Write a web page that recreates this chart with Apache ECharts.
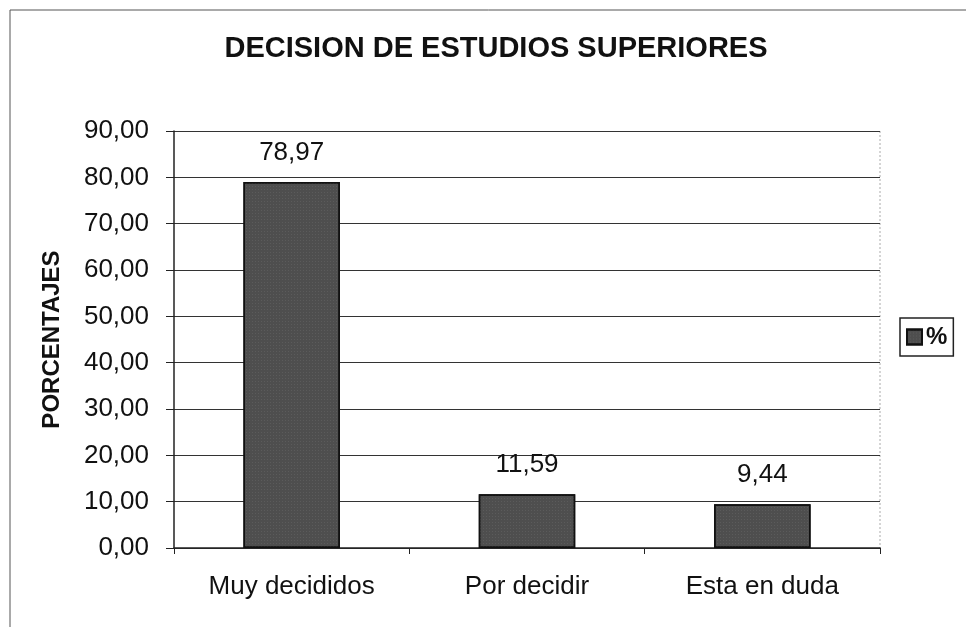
<!DOCTYPE html>
<html>
<head>
<meta charset="utf-8">
<script src="https://cdn.jsdelivr.net/npm/echarts@6/dist/echarts.min.js"></script>
<style>
html,body{margin:0;padding:0;background:#fff;}
#main{width:966px;height:627px;}
</style>
</head>
<body>
<div id="main"></div>
<script>
var categorias = ['Muy decididos', 'Por decidir', 'Esta en duda'];
var porcentajes = [78.97, 11.59, 9.44];

function coma(v) {
    return Number(v).toFixed(2).replace('.', ',');
}

var chart = echarts.init(document.getElementById('main'));
var option = {
    backgroundColor: '#fff',
    title: {
        text: 'DECISION DE ESTUDIOS SUPERIORES',
        left: 491,
        textAlign: 'center',
        top: 29,
        textStyle: {fontFamily: 'Arial', fontSize: 29, fontWeight: 'bold', color: '#111'}
    },
    legend: {
        data: ['%'],
        left: 900,
        top: 318,
        orient: 'vertical',
        padding: [7, 6, 7, 6],
        borderColor: '#222',
        borderWidth: 1.5,
        itemWidth: 15,
        itemHeight: 15,
        itemGap: 4,
        icon: 'rect',
        textStyle: {fontFamily: 'Arial', fontSize: 24, fontWeight: 'bold', color: '#111', padding: [0, 0, 0, -1]}
    },
    graphic: [
        {type: 'rect', shape: {x: 10, y: 10, width: 980, height: 640}, style: {fill: 'none', stroke: '#555', lineWidth: 1}, silent: true},
        {type: 'line', shape: {x1: 880, y1: 131, x2: 880, y2: 548}, style: {stroke: '#aaa', lineWidth: 1, lineDash: [2, 2]}, silent: true}
    ],
    grid: {left: 174, right: 86, top: 131, bottom: 79},
    xAxis: {
        type: 'category',
        data: categorias,
        axisLine: {lineStyle: {color: '#222', width: 1.5}},
        axisTick: {show: true, length: 6, lineStyle: {color: '#222'}},
        axisLabel: {fontFamily: 'Arial', fontSize: 26, color: '#111', margin: 26}
    },
    yAxis: {
        type: 'value',
        min: 0,
        max: 90,
        interval: 10,
        name: 'PORCENTAJES',
        nameLocation: 'middle',
        nameGap: 110,
        nameTextStyle: {fontFamily: 'Arial', fontSize: 24, fontWeight: 'bold', color: '#111'},
        axisLine: {show: true, lineStyle: {color: '#222', width: 1.5}},
        axisTick: {show: true, length: 8, lineStyle: {color: '#222'}},
        axisLabel: {fontFamily: 'Arial', fontSize: 26, color: '#111', margin: 25, formatter: coma},
        splitLine: {lineStyle: {color: '#333', width: 1.2}}
    },
    series: [{
        name: '%',
        type: 'bar',
        data: porcentajes,
        barWidth: '41%',
        itemStyle: {
            color: '#4e4e4e',
            borderColor: '#111',
            borderWidth: 1.5,
            decal: {
                symbol: 'rect',
                symbolSize: 0.6,
                dashArrayX: [1, 2],
                dashArrayY: [1, 2],
                color: 'rgba(200,200,200,0.35)',
                rotation: 0
            }
        },
        label: {
            show: true,
            position: 'top',
            distance: 16,
            fontFamily: 'Arial',
            fontSize: 26,
            color: '#111',
            formatter: function (p) { return coma(p.value); }
        }
    }],
    aria: {enabled: true, decal: {show: true}}
};
chart.setOption(option);
</script>
</body>
</html>
